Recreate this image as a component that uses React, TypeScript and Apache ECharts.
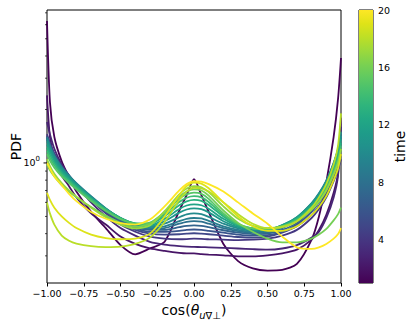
import React, { useEffect, useRef } from "react";
import * as echarts from "echarts";

// x positions: cos(theta)
const X = [-1, -0.98, -0.95, -0.9, -0.85, -0.8, -0.7, -0.6, -0.5, -0.4, -0.3, -0.2, -0.1, -0.05, 0, 0.05, 0.1, 0.2, 0.3, 0.4, 0.5, 0.6, 0.7, 0.8, 0.85, 0.9, 0.95, 0.98, 1];

const TIMES = [1, 2, 3, 4, 5, 6, 7, 8, 9, 10, 11, 12, 13, 14, 15, 16, 17, 18, 19, 20];

const PDF_T1 = [6.3, 2.2, 1.4, 1.02, 0.83, 0.69, 0.53, 0.43, 0.345, 0.306, 0.33, 0.36, 0.54, 0.66, 0.81, 0.66, 0.53, 0.35, 0.28, 0.255, 0.248, 0.25, 0.27, 0.37, 0.5, 0.78, 1.4, 2.3, 3.9];
const PDF_T2 = [2.4, 1.4, 1.08, 0.85, 0.74, 0.64, 0.52, 0.45, 0.385, 0.35, 0.33, 0.32, 0.312, 0.31, 0.31, 0.307, 0.305, 0.302, 0.298, 0.298, 0.302, 0.31, 0.325, 0.37, 0.42, 0.51, 0.68, 0.88, 1.8];
const PDF_T3 = [1.7, 1.45, 1.2, 0.98, 0.85, 0.75, 0.6, 0.5, 0.43, 0.39, 0.36, 0.347, 0.34, 0.338, 0.337, 0.336, 0.335, 0.333, 0.33, 0.327, 0.325, 0.33, 0.345, 0.38, 0.41, 0.49, 0.64, 0.85, 1.6];
const PDF_T4 = [1.45, 1.3, 1.13, 0.96, 0.85, 0.76, 0.62, 0.52, 0.45, 0.41, 0.385, 0.375, 0.372, 0.373, 0.375, 0.374, 0.372, 0.37, 0.368, 0.37, 0.375, 0.39, 0.42, 0.49, 0.55, 0.64, 0.79, 0.92, 1.05];
const PDF_T5 = [1.42, 1.28, 1.12, 0.95, 0.84, 0.75, 0.62, 0.53, 0.46, 0.42, 0.4, 0.395, 0.397, 0.4, 0.402, 0.4, 0.397, 0.39, 0.383, 0.38, 0.385, 0.405, 0.44, 0.51, 0.575, 0.67, 0.83, 0.96, 1.1];
const PDF_T6 = [1.4, 1.26, 1.1, 0.94, 0.84, 0.75, 0.63, 0.54, 0.47, 0.43, 0.41, 0.41, 0.415, 0.42, 0.422, 0.42, 0.415, 0.405, 0.395, 0.39, 0.392, 0.41, 0.45, 0.53, 0.6, 0.7, 0.87, 1.02, 1.2];
const PDF_T7 = [1.38, 1.24, 1.09, 0.93, 0.83, 0.75, 0.63, 0.54, 0.475, 0.435, 0.42, 0.42, 0.435, 0.442, 0.445, 0.443, 0.435, 0.418, 0.405, 0.398, 0.4, 0.42, 0.46, 0.55, 0.62, 0.73, 0.91, 1.08, 1.3];
const PDF_T8 = [1.35, 1.22, 1.08, 0.93, 0.83, 0.75, 0.63, 0.545, 0.48, 0.44, 0.425, 0.43, 0.455, 0.466, 0.47, 0.467, 0.455, 0.43, 0.413, 0.405, 0.407, 0.43, 0.475, 0.57, 0.645, 0.76, 0.96, 1.15, 1.4];
const PDF_T9 = [1.4, 1.25, 1.1, 0.95, 0.85, 0.77, 0.65, 0.555, 0.485, 0.445, 0.43, 0.44, 0.47, 0.485, 0.49, 0.487, 0.472, 0.44, 0.42, 0.41, 0.413, 0.44, 0.49, 0.59, 0.67, 0.79, 1.0, 1.2, 1.5];
const PDF_T10 = [1.37, 1.23, 1.09, 0.94, 0.845, 0.765, 0.645, 0.555, 0.49, 0.45, 0.435, 0.455, 0.495, 0.513, 0.52, 0.515, 0.497, 0.455, 0.428, 0.416, 0.418, 0.445, 0.495, 0.595, 0.675, 0.795, 1.0, 1.2, 1.48];
const PDF_T11 = [1.32, 1.19, 1.06, 0.92, 0.83, 0.755, 0.64, 0.55, 0.49, 0.452, 0.44, 0.47, 0.525, 0.547, 0.555, 0.549, 0.527, 0.47, 0.435, 0.422, 0.422, 0.447, 0.495, 0.59, 0.665, 0.78, 0.98, 1.17, 1.42];
const PDF_T12 = [1.27, 1.15, 1.03, 0.9, 0.815, 0.745, 0.635, 0.55, 0.49, 0.455, 0.445, 0.485, 0.55, 0.576, 0.585, 0.578, 0.552, 0.485, 0.442, 0.425, 0.423, 0.445, 0.49, 0.58, 0.65, 0.76, 0.95, 1.13, 1.36];
const PDF_T13 = [1.22, 1.11, 1.0, 0.88, 0.8, 0.735, 0.63, 0.548, 0.49, 0.457, 0.453, 0.502, 0.578, 0.608, 0.62, 0.612, 0.58, 0.5, 0.448, 0.428, 0.424, 0.443, 0.485, 0.57, 0.635, 0.74, 0.92, 1.09, 1.3];
const PDF_T14 = [1.17, 1.07, 0.97, 0.86, 0.785, 0.72, 0.62, 0.543, 0.487, 0.455, 0.457, 0.515, 0.603, 0.637, 0.65, 0.64, 0.603, 0.51, 0.452, 0.428, 0.422, 0.44, 0.48, 0.56, 0.625, 0.725, 0.9, 1.06, 1.25];
const PDF_T15 = [1.12, 1.03, 0.94, 0.84, 0.77, 0.71, 0.61, 0.537, 0.483, 0.455, 0.462, 0.527, 0.628, 0.665, 0.68, 0.67, 0.628, 0.52, 0.455, 0.428, 0.42, 0.435, 0.475, 0.55, 0.61, 0.71, 0.88, 1.03, 1.2];
const PDF_T16 = [0.98, 0.91, 0.84, 0.75, 0.69, 0.64, 0.565, 0.505, 0.46, 0.437, 0.455, 0.53, 0.645, 0.69, 0.71, 0.7, 0.655, 0.54, 0.46, 0.41, 0.375, 0.357, 0.357, 0.375, 0.395, 0.425, 0.475, 0.515, 0.56];
const PDF_T17 = [1.05, 0.96, 0.87, 0.77, 0.7, 0.645, 0.56, 0.495, 0.45, 0.428, 0.445, 0.535, 0.665, 0.718, 0.74, 0.73, 0.685, 0.57, 0.485, 0.443, 0.43, 0.44, 0.47, 0.545, 0.605, 0.7, 0.86, 1.0, 1.2];
const PDF_T18 = [0.6, 0.52, 0.45, 0.39, 0.365, 0.352, 0.34, 0.336, 0.338, 0.35, 0.38, 0.465, 0.62, 0.69, 0.725, 0.72, 0.69, 0.6, 0.515, 0.455, 0.43, 0.435, 0.47, 0.56, 0.64, 0.76, 0.98, 1.25, 1.9];
const PDF_T19 = [0.68, 0.62, 0.56, 0.5, 0.46, 0.43, 0.395, 0.378, 0.372, 0.375, 0.4, 0.5, 0.66, 0.74, 0.775, 0.765, 0.72, 0.6, 0.5, 0.44, 0.415, 0.415, 0.44, 0.51, 0.565, 0.65, 0.8, 0.93, 1.12];
const PDF_T20 = [1.0, 0.93, 0.84, 0.75, 0.67, 0.61, 0.53, 0.485, 0.458, 0.45, 0.48, 0.57, 0.7, 0.76, 0.79, 0.785, 0.76, 0.69, 0.6, 0.52, 0.455, 0.385, 0.335, 0.328, 0.335, 0.35, 0.375, 0.398, 0.43];

const SERIES_VALUES = [PDF_T1, PDF_T2, PDF_T3, PDF_T4, PDF_T5, PDF_T6, PDF_T7, PDF_T8, PDF_T9, PDF_T10, PDF_T11, PDF_T12, PDF_T13, PDF_T14, PDF_T15, PDF_T16, PDF_T17, PDF_T18, PDF_T19, PDF_T20];

const X_MIN = -1;
const X_MAX = 1;
const X_STEP = 0.25;
const Y_MIN = 0.211;
const Y_MAX = 7.26;
const Y_MAJOR_TICKS = [1];
const Y_MINOR_TICKS = [0.3, 0.4, 0.5, 0.6, 0.7, 0.8, 0.9, 2, 3, 4, 5, 6, 7];
const T_MIN = 1;
const T_MAX = 20;
const CBAR_TICKS = [4, 8, 12, 16, 20];

const VIRIDIS = [
  "#440154", "#471365", "#482475", "#463480", "#414487", "#3b528b", "#355f8d",
  "#2f6c8e", "#2a788e", "#25848e", "#21918c", "#1e9c89", "#22a884", "#2fb47c",
  "#44bf70", "#5ec962", "#7ad151", "#9bd93c", "#bddf26", "#dfe318", "#fde725",
];

function hexToRgb(h: string) {
  return [parseInt(h.slice(1, 3), 16), parseInt(h.slice(3, 5), 16), parseInt(h.slice(5, 7), 16)];
}
function viridis(f: number) {
  const t = Math.max(0, Math.min(1, f)) * (VIRIDIS.length - 1);
  const i = Math.min(VIRIDIS.length - 2, Math.floor(t));
  const r = t - i;
  const a = hexToRgb(VIRIDIS[i]);
  const b = hexToRgb(VIRIDIS[i + 1]);
  const c = a.map((v, k) => Math.round(v + (b[k] - v) * r));
  return `rgb(${c[0]},${c[1]},${c[2]})`;
}

const FONT = "DejaVu Sans";

export default function App() {
  const ref = useRef<HTMLDivElement>(null);
  useEffect(() => {
    if (!ref.current) return;
    const chart = echarts.init(ref.current, undefined, { renderer: "svg" });

    const lineSeries = SERIES_VALUES.map((vals, i) => ({
      type: "line",
      name: "t" + TIMES[i],
      xAxisIndex: 0,
      yAxisIndex: 0,
      data: X.map((x, j) => [x, vals[j]]),
      symbol: "none",
      showSymbol: false,
      smooth: 0.25,
      silent: true,
      z: 2 + i,
      lineStyle: { color: viridis((TIMES[i] - T_MIN) / (T_MAX - T_MIN)), width: 1.8 },
    }));

    const tickData = [
      ...Y_MINOR_TICKS.map((v) => [X_MIN, v, 0]),
      ...Y_MAJOR_TICKS.map((v) => [X_MIN, v, 1]),
    ];

    const stops = VIRIDIS.map((c, k) => ({ offset: k / (VIRIDIS.length - 1), color: c }));

    const option: any = {
      animation: false,
      textStyle: { fontFamily: FONT },
      grid: [
        { left: 47, right: 74, top: 10, bottom: 40, show: true, borderColor: "#000", borderWidth: 1, backgroundColor: "transparent", outerBoundsMode: "none", containLabel: false },
        { left: 359, width: 14, top: 10, bottom: 40, show: true, borderColor: "#000", borderWidth: 1, outerBoundsMode: "none", containLabel: false },
      ],
      xAxis: [
        {
          gridIndex: 0,
          type: "value",
          min: X_MIN,
          max: X_MAX,
          interval: X_STEP,
          axisLine: { show: false },
          axisTick: { show: true, inside: false, length: 3.5, lineStyle: { color: "#000", width: 1 } },
          axisLabel: {
            color: "#000",
            fontSize: 9.5,
            fontFamily: FONT,
            margin: 5,
            formatter: (v: number) => (Math.abs(v) < 1e-9 ? "0.00" : (v < 0 ? "\u2212" : "") + Math.abs(v).toFixed(2)),
          },
          splitLine: { show: false },
          name: "{a|cos(}{b|θ}{c|u}{d|∇⊥}{a|)}",
          nameLocation: "middle",
          nameGap: 17,
          nameMoveOverlap: false,
          nameTextStyle: {
            color: "#000",
            fontSize: 14,
            fontFamily: FONT,
            rich: {
              a: { fontSize: 14, fontFamily: FONT, color: "#000", lineHeight: 20 },
              b: { fontSize: 14, fontFamily: FONT, color: "#000", fontStyle: "italic", lineHeight: 20 },
              c: { fontSize: 10, fontFamily: FONT, color: "#000", fontStyle: "italic", lineHeight: 10, verticalAlign: "bottom" },
              d: { fontSize: 10, fontFamily: FONT, color: "#000", lineHeight: 10, verticalAlign: "bottom" },
            },
          },
        },
        { gridIndex: 1, type: "value", min: 0, max: 1, show: false },
      ],
      yAxis: [
        {
          gridIndex: 0,
          type: "log",
          logBase: 10,
          min: Y_MIN,
          max: Y_MAX,
          axisLine: { show: false },
          axisTick: { show: false },
          axisLabel: {
            color: "#000",
            margin: 7,
            showMinLabel: false,
            showMaxLabel: false,
            formatter: (v: number) => (Math.abs(v - 1) < 1e-6 ? "{b|10}{p|0}" : ""),
            rich: {
              b: { fontSize: 9.5, fontFamily: FONT, color: "#000", lineHeight: 14 },
              p: { fontSize: 7, fontFamily: FONT, color: "#000", lineHeight: 8, verticalAlign: "top" },
            },
          },
          splitLine: { show: false },
          name: "PDF",
          nameLocation: "middle",
          nameGap: 24,
          nameMoveOverlap: false,
          nameTextStyle: { color: "#000", fontSize: 14, fontFamily: FONT },
        },
        {
          gridIndex: 1,
          type: "value",
          min: T_MIN,
          max: T_MAX,
          position: "right",
          axisLine: { show: false },
          axisTick: { show: true, inside: false, length: 3.5, customValues: CBAR_TICKS, lineStyle: { color: "#000", width: 1 } },
          axisLabel: { color: "#000", fontSize: 9.5, fontFamily: FONT, margin: 5, customValues: CBAR_TICKS },
          splitLine: { show: false },
          name: "time",
          nameLocation: "middle",
          nameRotate: 90,
          nameGap: 20,
          nameMoveOverlap: false,
          nameTextStyle: { color: "#000", fontSize: 14, fontFamily: FONT },
        },
      ],
      series: [
        ...lineSeries,
        {
          type: "custom",
          xAxisIndex: 0,
          yAxisIndex: 0,
          clip: false,
          silent: true,
          z: 50,
          data: tickData,
          encode: { x: 0, y: 1 },
          renderItem: (_p: any, api: any) => {
            const pt = api.coord([api.value(0), api.value(1)]);
            const len = api.value(2) ? 3.5 : 2;
            return {
              type: "line",
              shape: { x1: pt[0] - len, y1: pt[1], x2: pt[0], y2: pt[1] },
              style: { stroke: "#000", lineWidth: api.value(2) ? 1 : 0.7 },
            };
          },
        },
        {
          type: "custom",
          xAxisIndex: 1,
          yAxisIndex: 1,
          silent: true,
          data: [[0, T_MIN, 1, T_MAX]],
          renderItem: (_p: any, api: any) => {
            const p0 = api.coord([api.value(0), api.value(1)]);
            const p1 = api.coord([api.value(2), api.value(3)]);
            return {
              type: "rect",
              shape: { x: p0[0], y: p1[1], width: p1[0] - p0[0], height: p0[1] - p1[1] },
              style: { fill: new echarts.graphic.LinearGradient(0, 1, 0, 0, stops) },
            };
          },
        },
      ],
    };

    chart.setOption(option);
    return () => chart.dispose();
  }, []);

  return (
    <div
      ref={ref}
      style={{ position: "fixed", left: 0, top: 0, width: 415, height: 323, background: "#fff" }}
    />
  );
}
